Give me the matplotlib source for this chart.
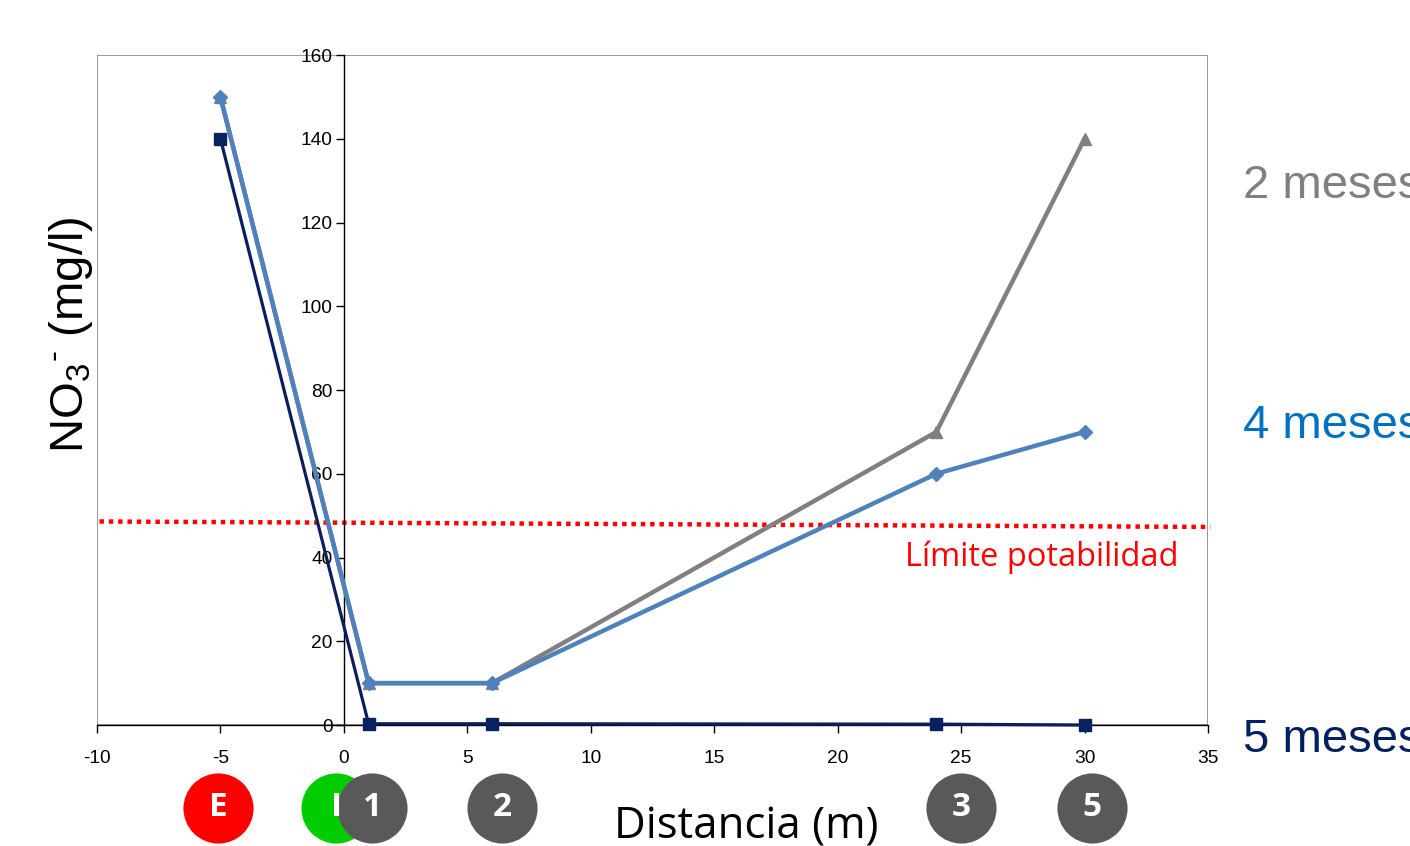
import matplotlib
matplotlib.use("Agg")
import matplotlib.pyplot as plt
from matplotlib.patches import Rectangle

plt.rcParams["mathtext.fontset"] = "custom"
plt.rcParams["mathtext.rm"] = "Liberation Sans"
plt.rcParams["mathtext.it"] = "Liberation Sans"
plt.rcParams["mathtext.default"] = "regular"

# Nitrate concentration along the flow path at three sampling times
dist_2m = [-5, 1, 6, 24, 30]
no3_2m = [150, 10, 10, 70, 140]
dist_4m = [-5, 1, 6, 24, 30]
no3_4m = [150, 10, 10, 60, 70]
dist_5m = [-5, 1, 6, 24, 30]
no3_5m = [140, 0.3, 0.3, 0.2, 0]

# Drinking-water limit line (drawn slightly tilted, end to end)
limit_x = [-9.9, 35.1]
limit_y = [48.6, 47.3]

# Sampling point badges under the distance axis
badge_x = [-5.1, -0.3, 1.15, 6.4, 25.0, 30.3]
badge_text = ["E", "I", "1", "2", "3", "5"]
badge_color = ["#FF0000", "#00CC00", "#595959", "#595959", "#595959", "#595959"]

x_ticks = list(range(-10, 36, 5))
y_ticks = list(range(0, 161, 20))

fig = plt.figure(figsize=(14.1, 8.46), dpi=100)
ax = fig.add_axes([97 / 1410, 1 - 725 / 846, 1111 / 1410, 670 / 846])
ax.set_xlim(-10, 35)
ax.set_ylim(0, 160)

# Plot-area frame
ax.add_patch(Rectangle((0, 0), 1, 1, transform=ax.transAxes, fill=False,
                       edgecolor="#868686", linewidth=1.2, zorder=0))
for s in ("top", "right"):
    ax.spines[s].set_visible(False)
ax.spines["left"].set_position(("data", 0))
ax.spines["left"].set_color("black")
ax.spines["left"].set_linewidth(1.0)
ax.spines["bottom"].set_color("black")
ax.spines["bottom"].set_linewidth(1.0)

ax.set_xticks(x_ticks)
ax.set_yticks(y_ticks)
tick_font = dict(family="Liberation Sans", size=13.8)
ax.set_xticklabels([str(v) for v in x_ticks], **tick_font)
ax.set_yticklabels([str(v) for v in y_ticks], **tick_font)
ax.tick_params(axis="both", direction="out", length=6, width=1, color="black")
ax.tick_params(axis="x", pad=12)
ax.tick_params(axis="y", pad=2)

ax.plot(dist_2m, no3_2m, color="#808080", lw=3.2, marker="^", ms=8,
        mfc="#808080", mec="#808080", zorder=3, clip_on=False)
ax.plot(dist_5m, no3_5m, color="#0A1F5C", lw=2.3, marker="s", ms=9,
        mfc="#0A2161", mec="#0A2161", zorder=4, clip_on=False)
ax.plot(dist_4m, no3_4m, color="#4F81BD", lw=3.2, marker="D", ms=7,
        mfc="#4F81BD", mec="#4F81BD", zorder=5, clip_on=False)

ax.plot(limit_x, limit_y, color="#FF0000", lw=3.2, linestyle=(0, (1, 1.1)),
        dash_capstyle="butt", zorder=2, clip_on=False)
ax.text(33.8, 38.0, "Límite potabilidad", color="#FF0000", ha="right",
        va="baseline", fontsize=23.5, family="Open Sans")

fig.text(71 / 1410, 1 - 335 / 846, "NO$_3$$^{‐}$ (mg/l)", rotation=90,
         ha="center", va="center", fontsize=34, family="Liberation Sans")

fig.text(746 / 1410, 1 - 838 / 846, "Distancia (m)", ha="center",
         va="baseline", fontsize=31.5, family="Open Sans")

# Series names on the right
fig.text(1243 / 1410, 1 - 186 / 846, "2 meses", color="#808080",
         fontsize=34, family="Liberation Sans", va="center", ha="left")
fig.text(1243 / 1410, 1 - 426 / 846, "4 meses", color="#0070C0",
         fontsize=34, family="Liberation Sans", va="center", ha="left")
fig.text(1243 / 1410, 1 - 740 / 846, "5 meses", color="#002060",
         fontsize=34, family="Liberation Sans", va="center", ha="left")

# Badges
trans = ax.get_xaxis_transform()
badge_y = (725 - 808) / 670
for bx, bt, bc in zip(badge_x, badge_text, badge_color):
    ax.scatter([bx], [badge_y], s=2550, color=bc, transform=trans,
               clip_on=False, zorder=6, linewidths=0)
    ax.text(bx, badge_y, bt, transform=trans, ha="center", va="center",
            color="white", fontsize=24, fontweight="bold", family="Open Sans",
            zorder=7, clip_on=False)

fig.savefig("out.png", dpi=100)
